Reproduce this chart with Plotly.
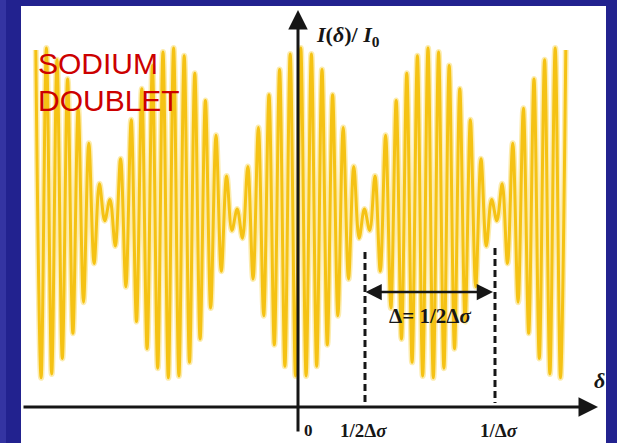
import plotly.graph_objects as go

# ---------------- data ----------------
# optical path difference, in units of the mean fringe spacing
peak_delta = list(range(-25, 26))
peak_I = [1.84, 1.85, 1.79, 1.69, 1.54, 1.36, 1.15, 1.07, 1.28, 1.48, 1.64, 1.76, 1.83,
          1.85, 1.81, 1.72, 1.58, 1.40, 1.19, 1.02, 1.24, 1.44, 1.61, 1.74, 1.82,
          1.85,
          1.82, 1.74, 1.61, 1.44, 1.24, 1.02, 1.19, 1.40, 1.58, 1.72, 1.81, 1.85,
          1.83, 1.76, 1.64, 1.48, 1.28, 1.07, 1.15, 1.36, 1.54, 1.69, 1.79, 1.85, 1.84]
trough_delta = [d + 0.5 for d in range(-25, 25)]
trough_I = [0.15, 0.17, 0.25, 0.38, 0.54, 0.74, 0.96, 0.83, 0.62, 0.44, 0.30, 0.20, 0.15,
            0.16, 0.23, 0.35, 0.51, 0.70, 0.91, 0.87, 0.66, 0.47, 0.32, 0.21, 0.16,
            0.16, 0.21, 0.32, 0.47, 0.66, 0.87, 0.91, 0.70, 0.51, 0.35, 0.23, 0.16,
            0.15, 0.20, 0.30, 0.44, 0.62, 0.83, 0.96, 0.74, 0.54, 0.38, 0.25, 0.17, 0.15]

tick_labels = ["0", "1/2Δ<i>σ</i>", "1/Δ<i>σ</i>"]
title_lines = ["SODIUM", "DOUBLET"]

# ---------------- layout helpers ----------------
W, H = 617, 443
ML, MR, MT, MB = 21, 11, 6, 0
PW, PH = W - ML - MR, H - MT - MB
X_RANGE = [-26.396, 28.792]
Y_RANGE = [-0.186, 2.067]


def dx(px):
    return X_RANGE[0] + (px - ML) / PW * (X_RANGE[1] - X_RANGE[0])


def dy(py):
    return Y_RANGE[1] - (py - MT) / PH * (Y_RANGE[1] - Y_RANGE[0])


xs, ys = [], []
for i, d in enumerate(peak_delta):
    xs.append(d)
    ys.append(peak_I[i])
    if i < len(trough_delta):
        xs.append(trough_delta[i])
        ys.append(trough_I[i])

fig = go.Figure()
fig.add_trace(go.Scatter(x=xs, y=ys, mode="lines",
                         line=dict(color="#fbe07a", width=6, shape="spline", smoothing=1.0),
                         opacity=0.6, hoverinfo="skip", showlegend=False))
fig.add_trace(go.Scatter(x=xs, y=ys, mode="lines",
                         line=dict(color="#f5c214", width=3, shape="spline", smoothing=1.0),
                         hoverinfo="skip", showlegend=False))

ink = "#161616"
serif = "Liberation Serif"
ann = []
# axes arrows
ann.append(dict(x=dx(598), y=0, ax=dx(22), ay=0, xref="x", yref="y", axref="x", ayref="y",
                text="", showarrow=True, arrowhead=2, arrowsize=1.3, arrowwidth=3,
                arrowcolor=ink, standoff=0, startstandoff=0))
ann.append(dict(x=dx(298), y=dy(10), ax=dx(298), ay=dy(433), xref="x", yref="y",
                axref="x", ayref="y", text="", showarrow=True, arrowhead=2, arrowsize=1.3,
                arrowwidth=3, arrowcolor=ink, standoff=0, startstandoff=0))
# delta double arrow
ann.append(dict(x=dx(493), y=dy(292), ax=dx(364), ay=dy(292), xref="x", yref="y",
                axref="x", ayref="y", text="", showarrow=True, arrowhead=2, arrowside="end+start",
                arrowsize=1.3, arrowwidth=2.5, arrowcolor=ink, standoff=0, startstandoff=0))

# text labels
ann.append(dict(x=dx(314), y=dy(36), xref="x", yref="y", xanchor="left", yanchor="middle",
                text="<b><i>I</i>(<i>δ</i>)/ <i>I</i><sub>0</sub></b>", showarrow=False,
                font=dict(family=serif, size=22, color=ink)))
ann.append(dict(x=dx(599), y=dy(380), xref="x", yref="y", xanchor="center", yanchor="middle",
                text="<b><i>δ</i></b>", showarrow=False,
                font=dict(family=serif, size=22, color=ink)))
ann.append(dict(x=dx(308), y=dy(430), xref="x", yref="y", xanchor="center", yanchor="middle",
                text="<b>" + tick_labels[0] + "</b>", showarrow=False,
                font=dict(family=serif, size=17, color=ink)))
ann.append(dict(x=dx(363), y=dy(430), xref="x", yref="y", xanchor="center", yanchor="middle",
                text="<b>" + tick_labels[1] + "</b>", showarrow=False,
                font=dict(family=serif, size=19, color=ink)))
ann.append(dict(x=dx(499), y=dy(430), xref="x", yref="y", xanchor="center", yanchor="middle",
                text="<b>" + tick_labels[2] + "</b>", showarrow=False,
                font=dict(family=serif, size=19, color=ink)))
ann.append(dict(x=dx(430), y=dy(316), xref="x", yref="y", xanchor="center", yanchor="middle",
                text="<b>Δ= 1/2Δ<i>σ</i></b>", showarrow=False,
                font=dict(family=serif, size=21, color=ink)))
ann.append(dict(x=dx(36), y=dy(63), xref="x", yref="y", xanchor="left", yanchor="middle",
                text=title_lines[0], showarrow=False,
                font=dict(family="Liberation Sans", size=30, color="#cc0000")))
ann.append(dict(x=dx(36), y=dy(100), xref="x", yref="y", xanchor="left", yanchor="middle",
                text=title_lines[1], showarrow=False,
                font=dict(family="Liberation Sans", size=30, color="#cc0000")))

shapes = [
    dict(type="line", xref="x", yref="y", x0=dx(365), x1=dx(365), y0=dy(252), y1=dy(403),
         line=dict(color=ink, width=3, dash="7px,4px")),
    dict(type="line", xref="x", yref="y", x0=dx(495), x1=dx(495), y0=dy(248), y1=dy(403),
         line=dict(color=ink, width=3, dash="7px,4px")),
    # lighter outer strip of the slide border
    dict(type="rect", xref="paper", yref="paper", x0=-ML / PW, x1=-(ML - 6) / PW, y0=-0.1, y1=1.1,
         line=dict(width=0), fillcolor="#3434a2", layer="below"),
]

fig.update_layout(
    width=W, height=H,
    margin=dict(l=ML, r=MR, t=MT, b=MB, pad=0),
    paper_bgcolor="#22228f",
    plot_bgcolor="#ffffff",
    xaxis=dict(range=X_RANGE, visible=False, fixedrange=True),
    yaxis=dict(range=Y_RANGE, visible=False, fixedrange=True),
    annotations=ann,
    shapes=shapes,
    showlegend=False,
)

fig.write_html("out.html", config={"displayModeBar": False},
               post_script="document.body.style.margin='0px';document.body.style.overflow='hidden';")
